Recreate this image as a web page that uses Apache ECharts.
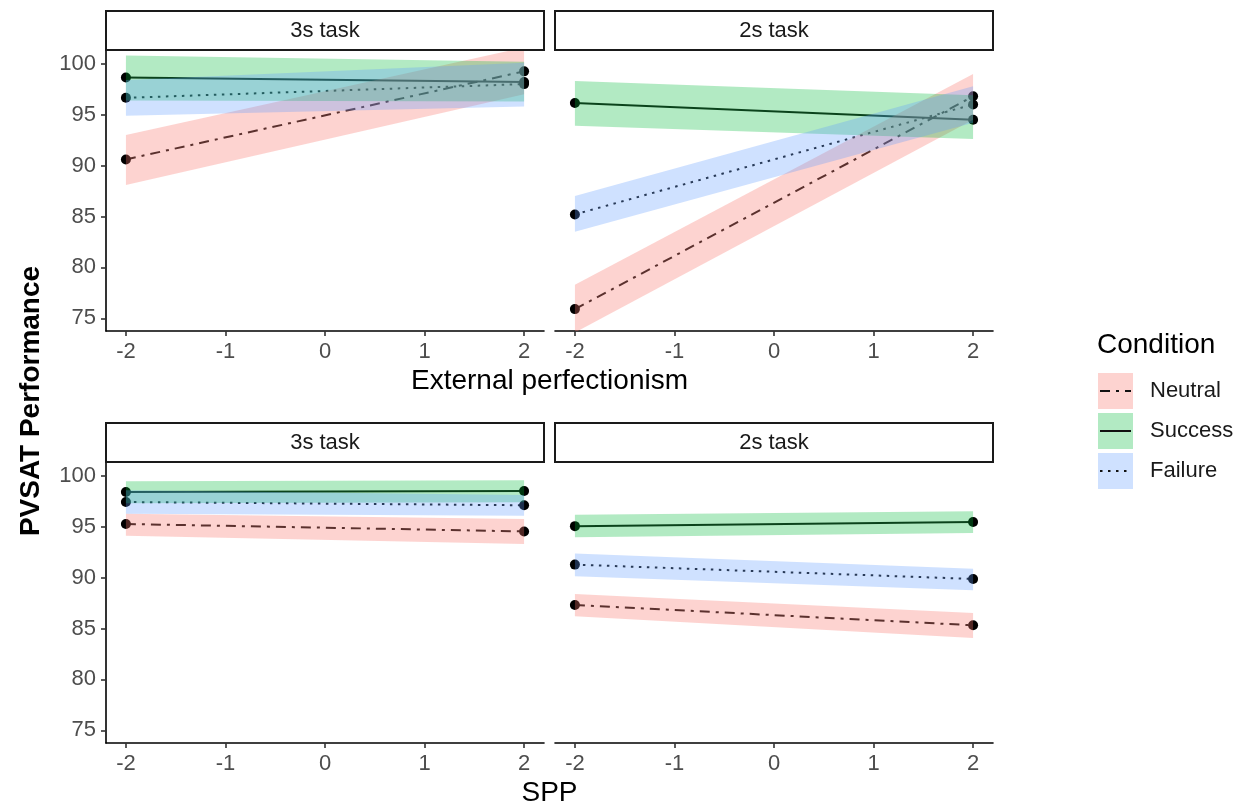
<!DOCTYPE html>
<html>
<head>
<meta charset="utf-8">
<script src="https://cdn.jsdelivr.net/npm/echarts@6/dist/echarts.min.js"></script>
<style>
html, body { margin: 0; padding: 0; background: #fff; }
#chart { width: 1250px; height: 807px; }
</style>
</head>
<body>
<div id="chart"></div>
<script>
// ---------- data ----------
const xPoints = [-2, 2];
const xTicks = [-2, -1, 0, 1, 2];
const yTicks = [75, 80, 85, 90, 95, 100];
const conditions = ['Neutral', 'Success', 'Failure'];
const taskLabels = ['3s task', '2s task'];
const xTitles = ['External perfectionism', 'SPP'];
const yTitle = 'PVSAT Performance';
const legendTitle = 'Condition';

// External perfectionism, 3s task
const ext3sNeutralFit = [90.6, 99.25];
const ext3sNeutralLow = [88.1, 97.0];
const ext3sNeutralHigh = [93.0, 101.6];
const ext3sSuccessFit = [98.65, 98.2];
const ext3sSuccessLow = [96.4, 96.3];
const ext3sSuccessHigh = [100.8, 100.2];
const ext3sFailureFit = [96.65, 98.0];
const ext3sFailureLow = [94.9, 95.8];
const ext3sFailureHigh = [98.4, 100.1];

// External perfectionism, 2s task
const ext2sNeutralFit = [75.9, 96.8];
const ext2sNeutralLow = [73.6, 94.5];
const ext2sNeutralHigh = [78.3, 99.0];
const ext2sSuccessFit = [96.15, 94.5];
const ext2sSuccessLow = [93.9, 92.6];
const ext2sSuccessHigh = [98.3, 96.9];
const ext2sFailureFit = [85.2, 96.0];
const ext2sFailureLow = [83.5, 94.2];
const ext2sFailureHigh = [87.0, 97.8];

// SPP, 3s task
const spp3sNeutralFit = [95.26, 94.53];
const spp3sNeutralLow = [94.1, 93.3];
const spp3sNeutralHigh = [96.27, 95.75];
const spp3sSuccessFit = [98.4, 98.5];
const spp3sSuccessLow = [97.3, 97.4];
const spp3sSuccessHigh = [99.45, 99.55];
const spp3sFailureFit = [97.42, 97.1];
const spp3sFailureLow = [96.27, 96.07];
const spp3sFailureHigh = [98.57, 98.1];

// SPP, 2s task
const spp2sNeutralFit = [87.31, 85.31];
const spp2sNeutralLow = [86.19, 84.07];
const spp2sNeutralHigh = [88.39, 86.53];
const spp2sSuccessFit = [95.05, 95.46];
const spp2sSuccessLow = [93.95, 94.38];
const spp2sSuccessHigh = [96.17, 96.5];
const spp2sFailureFit = [91.27, 89.86];
const spp2sFailureLow = [90.12, 88.74];
const spp2sFailureHigh = [92.35, 90.87];

// panels in order: top-left, top-right, bottom-left, bottom-right
const panelData = [
  [[ext3sNeutralFit, ext3sNeutralLow, ext3sNeutralHigh], [ext3sSuccessFit, ext3sSuccessLow, ext3sSuccessHigh], [ext3sFailureFit, ext3sFailureLow, ext3sFailureHigh]],
  [[ext2sNeutralFit, ext2sNeutralLow, ext2sNeutralHigh], [ext2sSuccessFit, ext2sSuccessLow, ext2sSuccessHigh], [ext2sFailureFit, ext2sFailureLow, ext2sFailureHigh]],
  [[spp3sNeutralFit, spp3sNeutralLow, spp3sNeutralHigh], [spp3sSuccessFit, spp3sSuccessLow, spp3sSuccessHigh], [spp3sFailureFit, spp3sFailureLow, spp3sFailureHigh]],
  [[spp2sNeutralFit, spp2sNeutralLow, spp2sNeutralHigh], [spp2sSuccessFit, spp2sSuccessLow, spp2sSuccessHigh], [spp2sFailureFit, spp2sFailureLow, spp2sFailureHigh]]
];

// ---------- styles ----------
const FONT = '"Liberation Sans", Arial, Helvetica, sans-serif';
const fillColors = ['rgba(248,118,109,0.32)', 'rgba(0,186,56,0.30)', 'rgba(97,156,255,0.30)'];
const dashTypes = [[10, 6, 3, 6], 'solid', [2.5, 5.5]];
const grids = [
  { left: 106, top: 51, width: 438, height: 280 },
  { left: 555, top: 51, width: 438, height: 280 },
  { left: 106, top: 463, width: 438, height: 280 },
  { left: 555, top: 463, width: 438, height: 280 }
];

const xAxes = grids.map((g, i) => ({
  type: 'value', gridIndex: i, min: -2.2, max: 2.2,
  axisLine: { show: true, onZero: false, lineStyle: { color: '#000', width: 1.6 } },
  axisTick: { show: true, customValues: xTicks, length: 5, lineStyle: { color: '#333', width: 1.6 } },
  axisLabel: { show: true, customValues: xTicks, color: '#4d4d4d', fontSize: 22, fontFamily: FONT, margin: 10 },
  splitLine: { show: false }
}));
const yAxes = grids.map((g, i) => {
  const showAx = (i % 2 === 0);
  return {
    type: 'value', gridIndex: i, min: 73.75, max: 101.25,
    axisLine: { show: showAx, onZero: false, lineStyle: { color: '#000', width: 1.6 } },
    axisTick: { show: showAx, customValues: yTicks, length: 5, lineStyle: { color: '#333', width: 1.6 } },
    axisLabel: { show: showAx, customValues: yTicks, color: '#4d4d4d', fontSize: 22, fontFamily: FONT, margin: 10 },
    splitLine: { show: false }
  };
});

const series = [];
panelData.forEach((panel, p) => {
  panel.forEach((cond, c) => {
    const fit = cond[0];
    series.push({
      type: 'line', name: conditions[c], xAxisIndex: p, yAxisIndex: p,
      data: xPoints.map((x, k) => [x, fit[k]]),
      symbol: 'circle', symbolSize: 10, showSymbol: true,
      itemStyle: { color: '#000' },
      lineStyle: { color: '#111', width: 2, type: dashTypes[c], cap: 'butt' },
      z: 2, silent: true, animation: false
    });
  });
  panel.forEach((cond, c) => {
    const low = cond[1], high = cond[2];
    series.push({
      type: 'custom', name: conditions[c] + ' CI', xAxisIndex: p, yAxisIndex: p,
      data: [[xPoints[0], low[0], high[0], xPoints[1], low[1], high[1]]],
      renderItem: function (params, api) {
        const cs = params.coordSys;
        const pts = [
          api.coord([api.value(0), api.value(1)]),
          api.coord([api.value(3), api.value(4)]),
          api.coord([api.value(3), api.value(5)]),
          api.coord([api.value(0), api.value(2)])
        ];
        return {
          type: 'polygon',
          shape: { points: pts },
          style: { fill: fillColors[c], stroke: null },
          clipPath: { type: 'rect', shape: { x: cs.x, y: cs.y, width: cs.width, height: cs.height } }
        };
      },
      z: 3 + c, silent: true, animation: false
    });
  });
});

// ---------- decorations (strips, titles, legend) ----------
const graphic = [];
grids.forEach((g, i) => {
  const top = g.top - 40;
  graphic.push({ type: 'rect', shape: { x: g.left, y: top, width: g.width, height: 39 },
    style: { fill: '#fff', stroke: '#1a1a1a', lineWidth: 2 }, z: 10 });
  graphic.push({ type: 'text', x: g.left + g.width / 2, y: top + 20,
    style: { text: taskLabels[i % 2], font: '22px ' + FONT, fill: '#1a1a1a',
      align: 'center', verticalAlign: 'middle', textAlign: 'center', textVerticalAlign: 'middle' }, z: 11 });
});
graphic.push({ type: 'text', x: 549.5, y: 381,
  style: { text: xTitles[0], font: '28px ' + FONT, fill: '#000', align: 'center', verticalAlign: 'middle', textAlign: 'center', textVerticalAlign: 'middle' } });
graphic.push({ type: 'text', x: 549.5, y: 793,
  style: { text: xTitles[1], font: '28px ' + FONT, fill: '#000', align: 'center', verticalAlign: 'middle', textAlign: 'center', textVerticalAlign: 'middle' } });
graphic.push({ type: 'text', x: 31, y: 401, rotation: Math.PI / 2,
  style: { text: yTitle, font: 'bold 28px ' + FONT, fill: '#000', align: 'center', verticalAlign: 'middle', textAlign: 'center', textVerticalAlign: 'middle' } });
// legend
graphic.push({ type: 'text', x: 1097, y: 345,
  style: { text: legendTitle, font: '28px ' + FONT, fill: '#000', align: 'left', verticalAlign: 'middle', textAlign: 'left', textVerticalAlign: 'middle' } });
conditions.forEach((name, c) => {
  const y0 = 373 + c * 40;
  graphic.push({ type: 'rect', shape: { x: 1098, y: y0, width: 35, height: 36 }, style: { fill: fillColors[c] } });
  graphic.push({ type: 'line', shape: { x1: 1100, y1: y0 + 18, x2: 1131, y2: y0 + 18 },
    style: { stroke: '#111', lineWidth: 2, lineDash: Array.isArray(dashTypes[c]) ? dashTypes[c] : null } });
  graphic.push({ type: 'text', x: 1150, y: y0 + 18,
    style: { text: name, font: '22px ' + FONT, fill: '#1a1a1a', align: 'left', verticalAlign: 'middle', textAlign: 'left', textVerticalAlign: 'middle' } });
});

const chart = echarts.init(document.getElementById('chart'), null, { renderer: 'canvas' });
chart.setOption({
  backgroundColor: '#fff',
  animation: false,
  grid: grids,
  xAxis: xAxes,
  yAxis: yAxes,
  series: series,
  graphic: graphic
});
</script>
</body>
</html>
